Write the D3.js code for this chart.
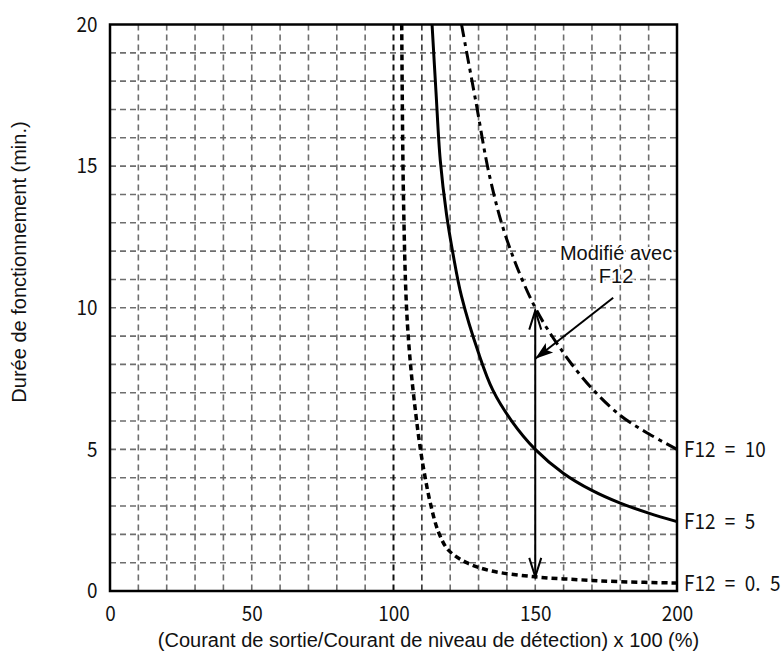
<!DOCTYPE html>
<html>
<head>
<meta charset="utf-8">
<script src="https://cdn.jsdelivr.net/npm/d3@7"></script>
<style>
  body { margin: 0; background: #fff; }
  svg { display: block; }
</style>
</head>
<body>
<svg id="chart" width="782" height="651"></svg>
<script>
// values: x = % of detection current, t = minutes
var xTicks = [0, 50, 100, 150, 200];
var yTicks = [0, 5, 10, 15, 20];

var f12_10_x = [124, 129, 134, 140, 150, 160, 170, 180, 190, 200];
var f12_10_t = [20, 17.3, 14.6, 12.4, 10, 8.4, 7.15, 6.2, 5.55, 5.0];

var f12_5_x = [113.6, 115, 116.5, 118.7, 121, 124, 130, 135, 141.7, 150, 160, 170, 180, 190, 200];
var f12_5_t = [20, 17.6, 15.2, 13.3, 11.9, 10.4, 8.4, 7.1, 6, 5, 4.15, 3.55, 3.1, 2.75, 2.45];

var f12_05_x = [102.9, 103.5, 104.6, 106, 107.8, 109.5, 111, 113, 115.8, 119.3, 125.8, 134, 150, 165, 180, 200];
var f12_05_t = [20, 14, 10, 8, 6.3, 5, 4.1, 3.1, 2.1, 1.45, 1.0, 0.72, 0.5, 0.4, 0.33, 0.28];

var seriesLabels = ["F12\u2002=\u200210", "F12\u2002=\u20025", "F12\u2002=\u20020.\u20025"];

// annotation arrows, in data units
var vArrow = [[150, 0.5], [150, 9.9]];
var dArrow = [[177.5, 10.35], [150, 8.2]];
var noteLines = ["Modifié avec", "F12"];

var svg = d3.select("svg#chart");
var margin = { top: 24.5, right: 105, bottom: 60, left: 110 };
var width = +svg.attr("width") - margin.left - margin.right;
var height = +svg.attr("height") - margin.top - margin.bottom;
var g = svg.append("g").attr("transform", "translate(" + margin.left + "," + margin.top + ")");

var x = d3.scaleLinear().domain([0, 200]).range([0, width]);
var y = d3.scaleLinear().domain([0, 20]).range([height, 0]);

var tickFont = "'Noto Sans CJK JP', sans-serif";
var textFont = "'Liberation Sans', Arial, sans-serif";

// markers
var defs = svg.append("defs");
defs.append("marker")
    .attr("id", "chev")
    .attr("markerUnits", "userSpaceOnUse")
    .attr("viewBox", "-20 -8 22 16")
    .attr("refX", 0).attr("refY", 0)
    .attr("markerWidth", 22).attr("markerHeight", 16)
    .attr("orient", "auto-start-reverse")
    .append("path")
    .attr("d", "M-19,-6L0,0L-19,6")
    .attr("fill", "none")
    .attr("stroke", "#000")
    .attr("stroke-width", 2);
defs.append("marker")
    .attr("id", "tri")
    .attr("markerUnits", "userSpaceOnUse")
    .attr("viewBox", "-20 -8 22 16")
    .attr("refX", 0).attr("refY", 0)
    .attr("markerWidth", 22).attr("markerHeight", 16)
    .attr("orient", "auto")
    .append("path")
    .attr("d", "M-18,-6L0,0L-18,6L-14,0Z")
    .attr("fill", "#000");

// Grid
var vGrid = d3.range(10, 200, 10);
var hGrid = d3.range(1, 20, 1);

g.append("g").selectAll("line")
    .data(hGrid)
    .join("line")
    .attr("x1", 0).attr("x2", width)
    .attr("y1", (d) => y(d)).attr("y2", (d) => y(d))
    .attr("stroke", "#6e6e6e")
    .attr("stroke-width", 1.6)
    .attr("stroke-dasharray", "6,4");

g.append("g").selectAll("line")
    .data(vGrid)
    .join("line")
    .attr("x1", (d) => x(d)).attr("x2", (d) => x(d))
    .attr("y1", 0).attr("y2", height)
    .attr("stroke", (d) => d === 100 ? "#111" : (d === 110 ? "#333" : "#6e6e6e"))
    .attr("stroke-width", (d) => d === 100 ? 2 : 1.6)
    .attr("stroke-dasharray", "6,4");

// Curves
var line = d3.line()
    .x((d) => x(d[0]))
    .y((d) => y(d[1]))
    .curve(d3.curveCatmullRom.alpha(0.5));

var series = [
    { xs: f12_10_x, ts: f12_10_t, dash: "13,5,4,5", w: 3 },
    { xs: f12_5_x, ts: f12_5_t, dash: null, w: 3 },
    { xs: f12_05_x, ts: f12_05_t, dash: "6,4", w: 3.5 }
];

series.forEach(function(s, i) {
    var pts = s.xs.map((v, k) => [v, s.ts[k]]);
    g.append("path")
        .datum(pts)
        .attr("d", line)
        .attr("fill", "none")
        .attr("stroke", "#000")
        .attr("stroke-width", s.w)
        .attr("stroke-dasharray", s.dash);

    var lx = width + 7;
    g.append("text")
        .attr("x", lx)
        .attr("y", y(s.ts[s.ts.length - 1]))
        .attr("dy", "0.36em")
        .attr("transform", "translate(" + lx + ",0) scale(0.9,1) translate(" + (-lx) + ",0)")
        .style("font-family", tickFont)
        .style("font-size", "21px")
        .attr("fill", "#111")
        .text(seriesLabels[i]);
});

// frame
g.append("rect")
    .attr("width", width).attr("height", height)
    .attr("fill", "none")
    .attr("stroke", "#000")
    .attr("stroke-width", 2.5);

// Arrows
g.append("line")
    .attr("x1", x(vArrow[0][0])).attr("y1", y(vArrow[0][1]))
    .attr("x2", x(vArrow[1][0])).attr("y2", y(vArrow[1][1]))
    .attr("stroke", "#000").attr("stroke-width", 2)
    .attr("marker-start", "url(#chev)")
    .attr("marker-end", "url(#chev)");

g.append("line")
    .attr("x1", x(dArrow[0][0])).attr("y1", y(dArrow[0][1]))
    .attr("x2", x(dArrow[1][0])).attr("y2", y(dArrow[1][1]))
    .attr("stroke", "#000").attr("stroke-width", 2)
    .attr("marker-end", "url(#tri)");

// note text
g.append("text")
    .attr("x", x(178.5))
    .attr("y", y(11.7))
    .attr("text-anchor", "middle")
    .style("font-family", textFont)
    .style("font-size", "20px")
    .attr("fill", "#111")
    .attr("stroke", "#fff").attr("stroke-width", 4).attr("paint-order", "stroke")
    .selectAll("tspan")
    .data(noteLines)
    .join("tspan")
    .attr("x", x(178.5))
    .attr("dy", (d, i) => i === 0 ? 0 : "1.15em")
    .text((d) => d);

// Attach X Axis
var xAxis = g.append("g")
    .attr("transform", "translate(0," + height + ")")
    .call(d3.axisBottom(x).tickValues(xTicks).tickSize(0).tickPadding(15));

// Attach Y Axis
var yAxis = g.append("g")
    .call(d3.axisLeft(y).tickValues(yTicks).tickSize(0).tickPadding(14));

[xAxis, yAxis].forEach(function(a) {
    a.select(".domain").remove();
    a.selectAll("text")
        .attr("transform", "scale(0.9,1)")
        .style("font-family", tickFont)
        .style("font-size", "21px")
        .attr("fill", "#111");
});

// axis titles
svg.append("text")
    .attr("x", margin.left + width / 2 + 35)
    .attr("y", 647)
    .attr("text-anchor", "middle")
    .style("font-family", textFont)
    .style("font-size", "20px")
    .attr("fill", "#111")
    .text("(Courant de sortie/Courant de niveau de détection) x 100 (%)");

svg.append("text")
    .attr("transform", "translate(26,262) rotate(-90)")
    .attr("text-anchor", "middle")
    .style("font-family", textFont)
    .style("font-size", "20px")
    .attr("fill", "#111")
    .text("Durée de fonctionnement (min.)");
</script>
</body>
</html>
